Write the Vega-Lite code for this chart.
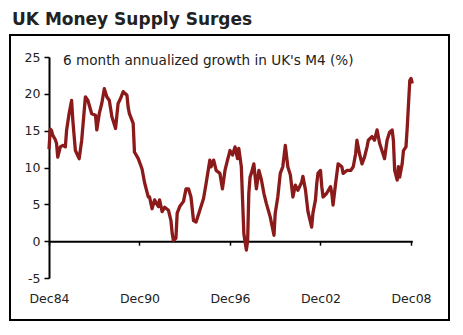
{
  "$schema": "https://vega.github.io/schema/vega-lite/v6.json",
  "width": 439,
  "height": 285,
  "autosize": {"type": "none"},
  "padding": {"left": 10, "top": 35, "right": 14, "bottom": 15},
  "background": "white",
  "title": {"text": "UK Money Supply Surges", "anchor": "start", "frame": "group", "offset": 6, "dx": 2, "font": "DejaVu Sans", "fontSize": 17, "fontWeight": "bold", "color": "#222222"},
  "config": {"view": {"stroke": "black", "strokeWidth": 2}},
  "layer": [
    {
      "data": {"values": [
        {"date": "1984-12-01", "growth": 12.5},
        {"date": "1985-01-01", "growth": 15.2},
        {"date": "1985-02-01", "growth": 15.0},
        {"date": "1985-03-01", "growth": 14.4},
        {"date": "1985-05-01", "growth": 13.8},
        {"date": "1985-06-01", "growth": 13.3},
        {"date": "1985-07-01", "growth": 11.4},
        {"date": "1985-09-01", "growth": 12.8},
        {"date": "1985-11-01", "growth": 13.0},
        {"date": "1986-01-01", "growth": 12.8},
        {"date": "1986-02-01", "growth": 15.1},
        {"date": "1986-04-01", "growth": 17.3},
        {"date": "1986-06-01", "growth": 19.1},
        {"date": "1986-07-01", "growth": 16.4},
        {"date": "1986-09-01", "growth": 12.3},
        {"date": "1986-12-01", "growth": 11.2},
        {"date": "1987-02-01", "growth": 13.7},
        {"date": "1987-05-01", "growth": 19.6},
        {"date": "1987-07-01", "growth": 19.1},
        {"date": "1987-10-01", "growth": 17.3},
        {"date": "1988-01-01", "growth": 17.1},
        {"date": "1988-02-01", "growth": 15.1},
        {"date": "1988-04-01", "growth": 17.3},
        {"date": "1988-06-01", "growth": 18.7},
        {"date": "1988-08-01", "growth": 20.7},
        {"date": "1988-10-01", "growth": 19.6},
        {"date": "1988-12-01", "growth": 19.1},
        {"date": "1989-02-01", "growth": 16.9},
        {"date": "1989-05-01", "growth": 15.3},
        {"date": "1989-07-01", "growth": 18.7},
        {"date": "1989-09-01", "growth": 19.4},
        {"date": "1989-11-01", "growth": 20.3},
        {"date": "1990-02-01", "growth": 19.8},
        {"date": "1990-03-01", "growth": 18.2},
        {"date": "1990-04-01", "growth": 17.3},
        {"date": "1990-07-01", "growth": 16.0},
        {"date": "1990-08-01", "growth": 12.1},
        {"date": "1990-11-01", "growth": 11.2},
        {"date": "1991-02-01", "growth": 9.8},
        {"date": "1991-04-01", "growth": 8.0},
        {"date": "1991-07-01", "growth": 6.0},
        {"date": "1991-08-01", "growth": 6.0},
        {"date": "1991-10-01", "growth": 4.4},
        {"date": "1991-12-01", "growth": 5.6},
        {"date": "1992-03-01", "growth": 4.7},
        {"date": "1992-04-01", "growth": 5.6},
        {"date": "1992-06-01", "growth": 4.0},
        {"date": "1992-08-01", "growth": 4.6},
        {"date": "1992-11-01", "growth": 4.2},
        {"date": "1993-01-01", "growth": 2.8},
        {"date": "1993-02-01", "growth": 1.0},
        {"date": "1993-03-01", "growth": 0.1},
        {"date": "1993-05-01", "growth": 0.4},
        {"date": "1993-06-01", "growth": 3.8},
        {"date": "1993-08-01", "growth": 4.7},
        {"date": "1993-11-01", "growth": 5.4},
        {"date": "1994-01-01", "growth": 7.1},
        {"date": "1994-03-01", "growth": 7.1},
        {"date": "1994-05-01", "growth": 6.0},
        {"date": "1994-07-01", "growth": 2.8},
        {"date": "1994-09-01", "growth": 2.6},
        {"date": "1994-12-01", "growth": 4.2},
        {"date": "1995-03-01", "growth": 5.8},
        {"date": "1995-05-01", "growth": 7.8},
        {"date": "1995-08-01", "growth": 11.0},
        {"date": "1995-09-01", "growth": 10.1},
        {"date": "1995-11-01", "growth": 11.0},
        {"date": "1996-01-01", "growth": 9.6},
        {"date": "1996-04-01", "growth": 9.2},
        {"date": "1996-06-01", "growth": 7.1},
        {"date": "1996-08-01", "growth": 9.6},
        {"date": "1996-10-01", "growth": 11.0},
        {"date": "1996-12-01", "growth": 12.3},
        {"date": "1997-02-01", "growth": 11.7},
        {"date": "1997-04-01", "growth": 12.8},
        {"date": "1997-06-01", "growth": 11.2},
        {"date": "1997-07-01", "growth": 12.6},
        {"date": "1997-09-01", "growth": 10.1},
        {"date": "1997-10-01", "growth": 5.6},
        {"date": "1997-11-01", "growth": 1.0},
        {"date": "1998-01-01", "growth": -1.2},
        {"date": "1998-02-01", "growth": 0.1},
        {"date": "1998-03-01", "growth": 6.5},
        {"date": "1998-04-01", "growth": 8.7},
        {"date": "1998-05-01", "growth": 9.2},
        {"date": "1998-07-01", "growth": 10.5},
        {"date": "1998-09-01", "growth": 7.1},
        {"date": "1998-11-01", "growth": 9.6},
        {"date": "1999-01-01", "growth": 8.3},
        {"date": "1999-03-01", "growth": 6.5},
        {"date": "1999-05-01", "growth": 5.1},
        {"date": "1999-08-01", "growth": 3.3},
        {"date": "1999-11-01", "growth": 0.8},
        {"date": "1999-12-01", "growth": 3.8},
        {"date": "2000-02-01", "growth": 6.0},
        {"date": "2000-04-01", "growth": 9.2},
        {"date": "2000-06-01", "growth": 10.1},
        {"date": "2000-08-01", "growth": 13.0},
        {"date": "2000-10-01", "growth": 10.1},
        {"date": "2000-12-01", "growth": 9.0},
        {"date": "2001-01-01", "growth": 7.5},
        {"date": "2001-02-01", "growth": 6.0},
        {"date": "2001-04-01", "growth": 7.6},
        {"date": "2001-06-01", "growth": 6.9},
        {"date": "2001-09-01", "growth": 8.0},
        {"date": "2001-10-01", "growth": 8.8},
        {"date": "2001-12-01", "growth": 7.0},
        {"date": "2002-02-01", "growth": 4.0},
        {"date": "2002-05-01", "growth": 1.9},
        {"date": "2002-06-01", "growth": 3.8},
        {"date": "2002-08-01", "growth": 5.6},
        {"date": "2002-09-01", "growth": 7.8},
        {"date": "2002-10-01", "growth": 9.2},
        {"date": "2002-12-01", "growth": 9.6},
        {"date": "2003-01-01", "growth": 7.4},
        {"date": "2003-02-01", "growth": 6.0},
        {"date": "2003-05-01", "growth": 6.5},
        {"date": "2003-08-01", "growth": 7.4},
        {"date": "2003-09-01", "growth": 6.5},
        {"date": "2003-10-01", "growth": 4.9},
        {"date": "2003-12-01", "growth": 7.8},
        {"date": "2004-02-01", "growth": 10.5},
        {"date": "2004-05-01", "growth": 10.1},
        {"date": "2004-06-01", "growth": 9.2},
        {"date": "2004-09-01", "growth": 9.6},
        {"date": "2004-12-01", "growth": 9.6},
        {"date": "2005-02-01", "growth": 10.1},
        {"date": "2005-04-01", "growth": 11.9},
        {"date": "2005-05-01", "growth": 13.7},
        {"date": "2005-07-01", "growth": 11.9},
        {"date": "2005-09-01", "growth": 10.5},
        {"date": "2005-11-01", "growth": 11.4},
        {"date": "2006-01-01", "growth": 12.8},
        {"date": "2006-02-01", "growth": 13.7},
        {"date": "2006-05-01", "growth": 14.2},
        {"date": "2006-07-01", "growth": 13.7},
        {"date": "2006-09-01", "growth": 15.1},
        {"date": "2006-11-01", "growth": 13.3},
        {"date": "2007-02-01", "growth": 11.7},
        {"date": "2007-03-01", "growth": 11.2},
        {"date": "2007-05-01", "growth": 13.7},
        {"date": "2007-07-01", "growth": 14.8},
        {"date": "2007-09-01", "growth": 15.1},
        {"date": "2007-10-01", "growth": 13.7},
        {"date": "2007-11-01", "growth": 9.6},
        {"date": "2008-01-01", "growth": 8.3},
        {"date": "2008-02-01", "growth": 10.1},
        {"date": "2008-03-01", "growth": 8.7},
        {"date": "2008-05-01", "growth": 10.5},
        {"date": "2008-06-01", "growth": 12.3},
        {"date": "2008-08-01", "growth": 12.8},
        {"date": "2008-09-01", "growth": 15.5},
        {"date": "2008-11-01", "growth": 21.8},
        {"date": "2008-12-01", "growth": 22.1},
        {"date": "2009-01-01", "growth": 21.4}
      ]},
      "mark": {"type": "line", "color": "#8B1A1A", "strokeWidth": 3.3, "strokeJoin": "round"},
      "encoding": {
        "x": {
          "field": "date", "type": "temporal",
          "scale": {"type": "utc", "domain": [{"year": 1984, "month": 12, "date": 1, "utc": true}, {"year": 2009, "month": 1, "date": 1, "utc": true}], "range": [39, 402.3]},
          "axis": {
            "values": [
              {"year": 1984, "month": 12, "date": 1, "utc": true},
              {"year": 1990, "month": 12, "date": 1, "utc": true},
              {"year": 1996, "month": 12, "date": 1, "utc": true},
              {"year": 2002, "month": 12, "date": 1, "utc": true},
              {"year": 2008, "month": 12, "date": 1, "utc": true}
            ],
            "format": "%b%y", "title": null, "grid": false,
            "offset": -78.8, "tickSize": 4, "labelPadding": 47,
            "domainColor": "black", "domainWidth": 2, "tickColor": "black", "tickWidth": 1.5,
            "labelFont": "DejaVu Sans", "labelFontSize": 12.5, "labelColor": "#222222",
            "labelFlush": false, "labelOverlap": false
          }
        },
        "y": {
          "field": "growth", "type": "quantitative",
          "scale": {"domain": [-5, 25], "range": [243, 22], "nice": false, "zero": false},
          "axis": {
            "values": [-5, 0, 5, 10, 15, 20, 25],
            "labelExpr": "datum.value < 0 ? '-' + abs(datum.value) : datum.label",
            "title": null, "grid": false,
            "offset": -39, "tickSize": 5, "labelPadding": 4,
            "domainColor": "black", "domainWidth": 2, "tickColor": "black", "tickWidth": 1.5,
            "labelFont": "DejaVu Sans", "labelFontSize": 12.5, "labelColor": "#222222",
            "labelFlush": false, "labelOverlap": false
          }
        }
      }
    },
    {
      "data": {"values": [{"label": "6 month annualized growth in UK's M4 (%)"}]},
      "mark": {"type": "text", "align": "left", "baseline": "middle", "font": "DejaVu Sans", "fontSize": 13.6, "color": "#222222"},
      "encoding": {
        "text": {"field": "label", "type": "nominal"},
        "x": {"datum": {"year": 1985, "month": 11, "date": 5, "utc": true}, "type": "temporal"},
        "y": {"datum": 24.5, "type": "quantitative"}
      }
    }
  ]
}
